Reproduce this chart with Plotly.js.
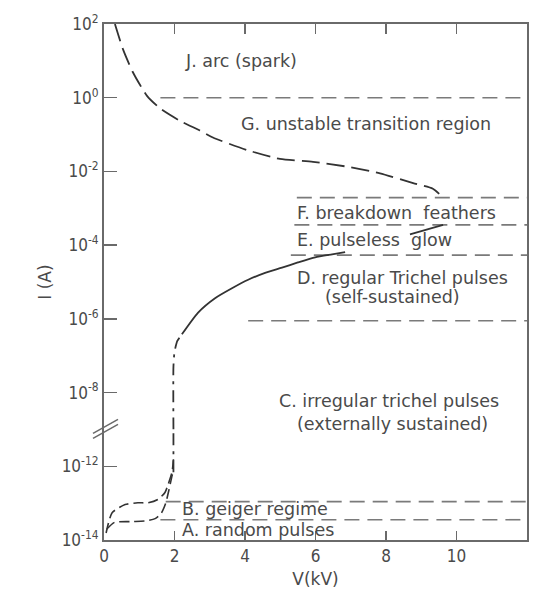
<!DOCTYPE html>
<html>
<head>
<meta charset="utf-8">
<script src="https://cdn.plot.ly/plotly-3.0.1.min.js"></script>
<style>
  html, body { margin: 0; padding: 0; background: #fff; }
  #chart { width: 535px; height: 616px; }
</style>
</head>
<body>
<div id="chart"></div>
<script>
// Negative point-to-plane corona: discharge current I against applied voltage V.
// Currents are kept as log10(I / A); the current axis is broken between 1e-9 A and 1e-11 A.

// Arc / unstable transition branch (dashed)
const arcV    = [0.31, 0.54, 0.82, 1.22, 1.59, 2.16, 2.72, 3.09, 4.06, 4.99, 5.93, 6.89, 7.83, 8.77, 9.33, 9.62];
const arcLogI = [2.00, 1.31, 0.69, 0.05, -0.29, -0.63, -0.89, -1.08, -1.42, -1.66, -1.74, -1.87, -2.05, -2.32, -2.47, -2.71];

// Trichel pulse / pulseless glow branch (solid), interrupted under the E label
const glowV    = [2.21, 2.67, 3.15, 3.63, 4.09, 4.57, 5.05, 5.50, 5.99, 6.47, 6.84, null, 8.68, 9.62];
const glowLogI = [-6.42, -5.83, -5.44, -5.17, -4.94, -4.75, -4.61, -4.47, -4.33, -4.25, -4.19, null, -3.71, -3.45];

// Onset: near-vertical rise at about 2 kV, drawn on both sides of the break
const onsetHighV    = [1.97, 1.97, 2.00, 2.08, 2.21];
const onsetHighLogI = [-9.0, -7.3, -6.9, -6.6, -6.42];
const onsetLowV     = [1.97, 1.97];
const onsetLowLogI  = [-12.16, -11.0];

// Geiger and random-pulse branches below the break
const geigerV    = [0.06, 0.23, 0.60, 0.96, 1.25, 1.53, 1.73, 1.82, 1.93, 1.97];
const geigerLogI = [-13.81, -13.26, -13.04, -12.99, -12.99, -12.90, -12.71, -12.49, -12.16, -11.81];
const randomV    = [0.08, 0.30, 0.80, 1.20, 1.45, 1.62, 1.75, 1.84, 1.92, 1.97];
const randomLogI = [-13.70, -13.52, -13.50, -13.48, -13.42, -13.28, -13.00, -12.65, -12.30, -12.10];

// Region boundaries (dashed horizontals running to the right edge)
const boundaryName   = ['G', 'F', 'E', 'D', 'C', 'B', 'A'];
const boundaryStartV = [1.60, 5.47, 5.40, 5.30, 4.09, 1.75, 1.60];
const boundaryLogI   = [0.00, -2.71, -3.45, -4.27, -6.05, -12.96, -13.45];
const boundaryEndV   = 12;

// Region labels
const regionText = [
  'J. arc (spark)',
  'G. unstable transition region',
  'F. breakdown  feathers',
  'E. pulseless  glow',
  'D. regular Trichel pulses',
  '(self-sustained)',
  'C. irregular trichel pulses',
  '(externally sustained)',
  'B. geiger regime',
  'A. random pulses'
];
const regionV      = [2.24, 3.83, 5.42, 5.42, 5.42, 8.18, 8.09, 8.18, 2.16, 2.16];
const regionLogI   = [0.99, -0.71, -3.13, -3.87, -4.90, -5.42, -8.24, -8.85, -13.15, -13.73];
const regionAnchor = ['left', 'left', 'left', 'left', 'left', 'center', 'center', 'center', 'left', 'left'];

// Axis ticks
const upperTickExp = [2, 0, -2, -4, -6, -8];
const lowerTickExp = [-12, -14];
const xTicks = [0, 2, 4, 6, 8, 10, 12];

const LABEL_FONT = '"DejaVu Sans", sans-serif';
const TICK_FONT = '"Liberation Sans Narrow", "DejaVu Sans Condensed", "DejaVu Sans", sans-serif';
const TEXT = '#4a4a4a';
const INK = '#333';
const AXIS = '#6a6a6a';
const BOUNDARY = '#7a7a7a';
const BREAK_FRAC = 3 / 14;   // lower panel spans 3 decades of the 14-decade height

const toAmp = arr => arr.map(v => (v === null ? null : Math.pow(10, v)));
const isLower = e => e < -10;
const axesFor = e => (isLower(e) ? { xaxis: 'x', yaxis: 'y' } : { xaxis: 'x2', yaxis: 'y2' });

const traces = [];

// Boundaries
boundaryName.forEach((name, i) => {
  traces.push(Object.assign({
    type: 'scatter', mode: 'lines', name: name,
    x: [boundaryStartV[i], boundaryEndV],
    y: toAmp([boundaryLogI[i], boundaryLogI[i]]),
    line: { color: BOUNDARY, width: 1.6, dash: '15px,8px' },
    hoverinfo: 'skip'
  }, axesFor(boundaryLogI[i])));
});

// Curves
traces.push({ type: 'scatter', mode: 'lines', name: 'arc', xaxis: 'x2', yaxis: 'y2',
  x: arcV, y: toAmp(arcLogI), line: { color: INK, width: 1.8, dash: '18px,7px', shape: 'spline', smoothing: 0.6 } });
traces.push({ type: 'scatter', mode: 'lines', name: 'glow', xaxis: 'x2', yaxis: 'y2',
  x: glowV, y: toAmp(glowLogI), connectgaps: false,
  line: { color: INK, width: 1.8, shape: 'spline', smoothing: 0.6 } });
traces.push({ type: 'scatter', mode: 'lines', name: 'onset upper', xaxis: 'x2', yaxis: 'y2',
  x: onsetHighV, y: toAmp(onsetHighLogI), line: { color: INK, width: 1.8, dash: '12px,6px,3px,6px', shape: 'spline', smoothing: 0.6 } });
traces.push({ type: 'scatter', mode: 'lines', name: 'onset lower', xaxis: 'x', yaxis: 'y',
  x: onsetLowV, y: toAmp(onsetLowLogI), line: { color: INK, width: 1.8, dash: '12px,6px,3px,6px' } });
traces.push({ type: 'scatter', mode: 'lines', name: 'geiger', xaxis: 'x', yaxis: 'y',
  x: geigerV, y: toAmp(geigerLogI), line: { color: INK, width: 1.6, dash: '10px,5px', shape: 'spline', smoothing: 0.6 } });
traces.push({ type: 'scatter', mode: 'lines', name: 'random', xaxis: 'x', yaxis: 'y',
  x: randomV, y: toAmp(randomLogI), line: { color: INK, width: 1.6, dash: '10px,5px', shape: 'spline', smoothing: 0.6 } });

const annotations = regionText.map((t, i) => Object.assign({
  text: t,
  x: regionV[i],
  y: regionLogI[i],
  xanchor: regionAnchor[i],
  yanchor: 'middle',
  showarrow: false,
  font: { family: LABEL_FONT, size: 17.5, color: TEXT }
}, isLower(regionLogI[i]) ? { xref: 'x', yref: 'y' } : { xref: 'x2', yref: 'y2' }));

// Current axis title
annotations.push({
  text: 'I (A)', xref: 'paper', yref: 'paper', x: -0.14, y: 0.50,
  xanchor: 'center', yanchor: 'middle', textangle: -90, showarrow: false,
  font: { family: LABEL_FONT, size: 17, color: TEXT }
});

const supLabel = e => '10<sup>' + (e < 0 ? '-' + (-e) : e) + '</sup>';

const axisCommon = {
  showgrid: false, zeroline: false, showline: true,
  linecolor: AXIS, linewidth: 2,
  ticks: 'inside', tickcolor: AXIS, tickwidth: 1.5,
  tickfont: { family: TICK_FONT, size: 17, color: TEXT }
};

const layout = {
  width: 535, height: 616,
  margin: { l: 104, r: 8, t: 24, b: 76 },
  paper_bgcolor: '#fff', plot_bgcolor: '#fff',
  showlegend: false,
  font: { family: LABEL_FONT, size: 16, color: TEXT },
  xaxis: Object.assign({}, axisCommon, {
    anchor: 'y', domain: [0, 1], range: [0, 12],
    tickvals: xTicks, ticklen: 9,
    title: { text: 'V(kV)', standoff: 8, font: { family: LABEL_FONT, size: 17, color: TEXT } }
  }),
  xaxis2: Object.assign({}, axisCommon, {
    anchor: 'y2', matches: 'x', side: 'top', range: [0, 12],
    tickvals: xTicks, ticklen: 10, showticklabels: false
  }),
  yaxis: Object.assign({}, axisCommon, {
    domain: [0, BREAK_FRAC], type: 'log', range: [-14, -11], mirror: true,
    tickvals: toAmp(lowerTickExp), ticktext: lowerTickExp.map(supLabel), ticklen: 13
  }),
  yaxis2: Object.assign({}, axisCommon, {
    domain: [BREAK_FRAC, 1], type: 'log', range: [-9, 2], mirror: true, anchor: 'x2',
    tickvals: toAmp(upperTickExp), ticktext: upperTickExp.map(supLabel), ticklen: 13
  }),
  annotations: annotations,
  // break marks across the current axis
  shapes: [0, 5].map(dy => ({
    type: 'line', xref: 'paper', yref: 'paper',
    xsizemode: 'pixel', ysizemode: 'pixel', xanchor: 0, yanchor: BREAK_FRAC,
    x0: -11, x1: 14, y0: -9 + dy, y1: 5 + dy,
    line: { color: AXIS, width: 1.5 }
  }))
};

Plotly.newPlot('chart', traces, layout, { displayModeBar: false, staticPlot: true });
</script>
</body>
</html>
